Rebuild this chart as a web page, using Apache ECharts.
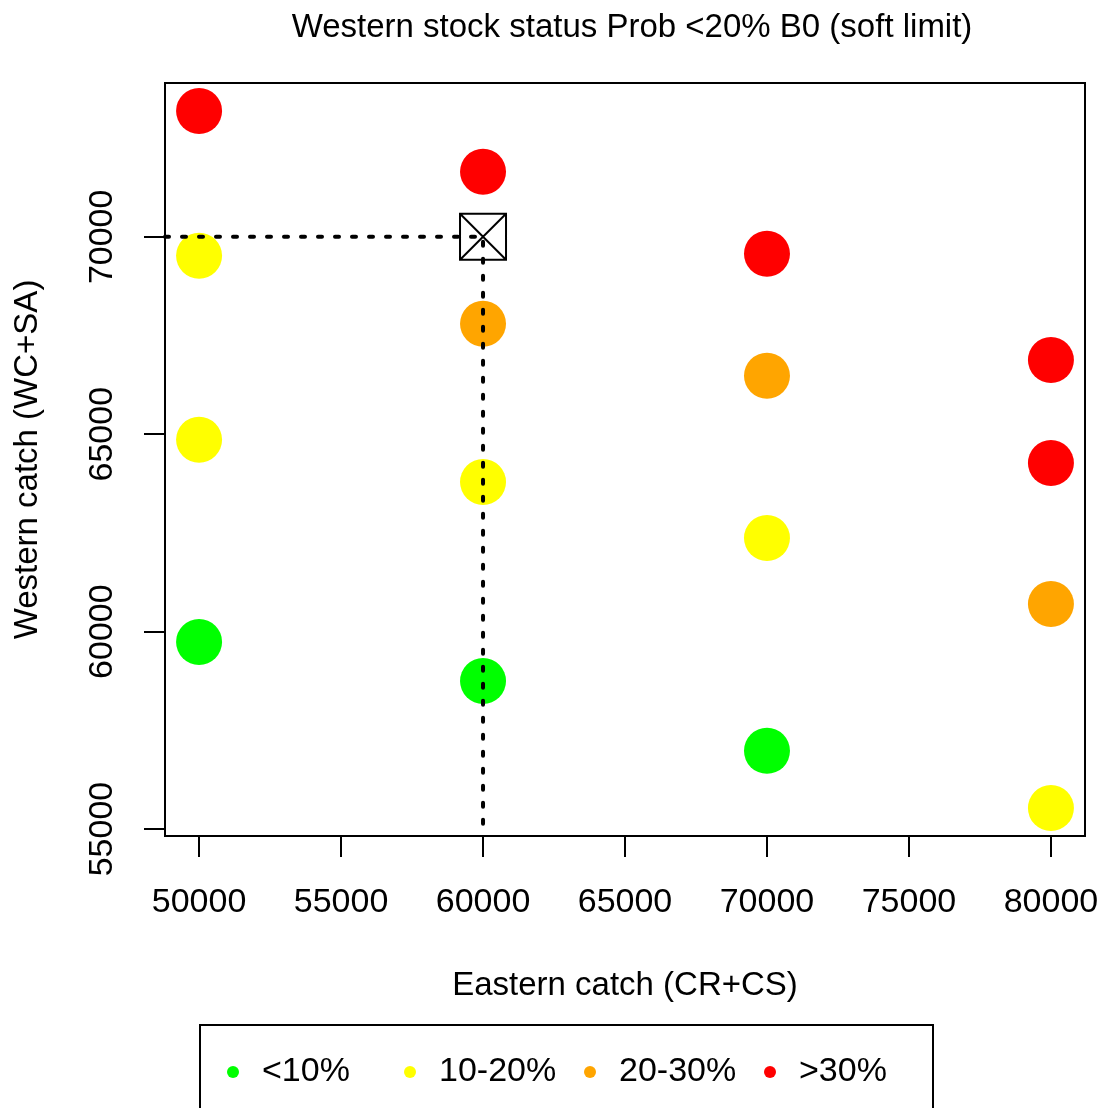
<!DOCTYPE html>
<html>
<head>
<meta charset="utf-8">
<title>Western stock status</title>
<script src="https://cdn.jsdelivr.net/npm/echarts@6/dist/echarts.min.js"></script>
<style>
  html, body { margin: 0; padding: 0; background: #fff; }
  #chart { width: 1106px; height: 1108px; }
</style>
</head>
<body>
<div id="chart"></div>
<script>
// Eastern catch (CR+CS) vs Western catch (WC+SA), grouped by probability class
const categories = ['<10%', '10-20%', '20-30%', '>30%'];
const classColors = ['#00ff00', '#ffff00', '#ffa500', '#ff0000'];

const lowPts = [[50000, 59740], [60000, 58750], [70000, 56980]];
const midPts = [[50000, 69520], [50000, 64860], [60000, 63790], [70000, 62370], [80000, 55530]];
const highPts = [[60000, 67800], [70000, 66480], [80000, 60700]];
const topPts = [[50000, 73190], [60000, 71650], [70000, 69570], [80000, 66880], [80000, 64270]];

const classPoints = [lowPts, midPts, highPts, topPts];

// Current catch reference point
const refPoint = [60000, 70000];

const xTicks = [50000, 55000, 60000, 65000, 70000, 75000, 80000];
const yTicks = [55000, 60000, 65000, 70000];

// Axis limits: data range padded by 4% on each side
function paddedRange(vals) {
  const lo = Math.min(...vals), hi = Math.max(...vals);
  const pad = (hi - lo) * 0.04;
  return [lo - pad, hi + pad];
}
const allPts = classPoints.flat();
const [xMin, xMax] = paddedRange(allPts.map(p => p[0]));
const [yMin, yMax] = paddedRange(allPts.map(p => p[1]));

const FONT = '"Liberation Sans", Arial, sans-serif';

const chart = echarts.init(document.getElementById('chart'), null, { renderer: 'canvas' });

const scatterSeries = categories.map((name, i) => ({
  name: name,
  type: 'scatter',
  data: classPoints[i],
  symbol: 'circle',
  symbolSize: 46,
  itemStyle: { color: classColors[i], opacity: 1 },
  emphasis: { disabled: true },
  z: 3
}));

// Legend entries placed one per slot along the bottom box
const legendLefts = [227, 404, 584, 764];
const legends = categories.map((name, i) => ({
  data: [{ name: name, icon: 'circle' }],
  left: legendLefts[i],
  top: 1055,
  orient: 'horizontal',
  itemWidth: 12,
  itemHeight: 15,
  selectedMode: false,
  padding: 0,
  textStyle: {
    fontFamily: FONT,
    fontSize: 34,
    color: '#000',
    padding: [0, 0, 0, 18]
  }
}));

chart.setOption({
  animation: false,
  backgroundColor: '#fff',
  title: {
    text: 'Western stock status Prob <20% B0 (soft limit)',
    left: 627,
    textAlign: 'center',
    top: 6,
    textStyle: { fontFamily: FONT, fontSize: 33, fontWeight: 'normal', color: '#000' }
  },
  legend: legends,
  graphic: [{
    type: 'rect',
    shape: { x: 200, y: 1025, width: 733, height: 100 },
    style: { fill: 'none', stroke: '#000', lineWidth: 2 },
    silent: true
  }],
  grid: {
    left: 165, top: 83, width: 920, height: 753,
    show: true, borderColor: '#000', borderWidth: 2, backgroundColor: 'transparent'
  },
  xAxis: {
    type: 'value',
    min: xMin, max: xMax,
    name: 'Eastern catch (CR+CS)',
    nameLocation: 'middle',
    nameGap: 133,
    nameTextStyle: { fontFamily: FONT, fontSize: 33, color: '#000' },
    axisLine: { show: false },
    splitLine: { show: false },
    axisTick: {
      show: true, inside: false, length: 21,
      customValues: xTicks,
      lineStyle: { color: '#000', width: 2 }
    },
    axisLabel: {
      customValues: xTicks,
      margin: 50,
      fontFamily: FONT, fontSize: 34, color: '#000',
      formatter: v => String(v)
    }
  },
  yAxis: {
    type: 'value',
    min: yMin, max: yMax,
    name: 'Western catch (WC+SA)',
    nameLocation: 'middle',
    nameGap: 121,
    nameTextStyle: { fontFamily: FONT, fontSize: 33, color: '#000' },
    axisLine: { show: false },
    splitLine: { show: false },
    axisTick: {
      show: true, inside: false, length: 21,
      customValues: yTicks,
      lineStyle: { color: '#000', width: 2 }
    },
    axisLabel: {
      customValues: yTicks,
      rotate: 90,
      margin: 45,
      fontFamily: FONT, fontSize: 34, color: '#000',
      formatter: v => String(v)
    }
  },
  series: [
    ...scatterSeries,
    {
      name: 'reference',
      type: 'line',
      data: [[xMin, refPoint[1]], refPoint, [refPoint[0], yMin]],
      showSymbol: false,
      symbol: 'none',
      lineStyle: { color: '#000', width: 4, type: [4, 13], cap: 'round' },
      emphasis: { disabled: true },
      z: 4
    },
    {
      name: 'refMarker',
      type: 'scatter',
      data: [refPoint],
      symbol: 'path://M0,0L46,0L46,46L0,46Z M0,0L46,46 M46,0L0,46',
      symbolSize: 46,
      itemStyle: { color: 'rgba(0,0,0,0)', borderColor: '#000', borderWidth: 2, opacity: 1 },
      emphasis: { disabled: true },
      z: 5
    }
  ]
});
</script>
</body>
</html>
